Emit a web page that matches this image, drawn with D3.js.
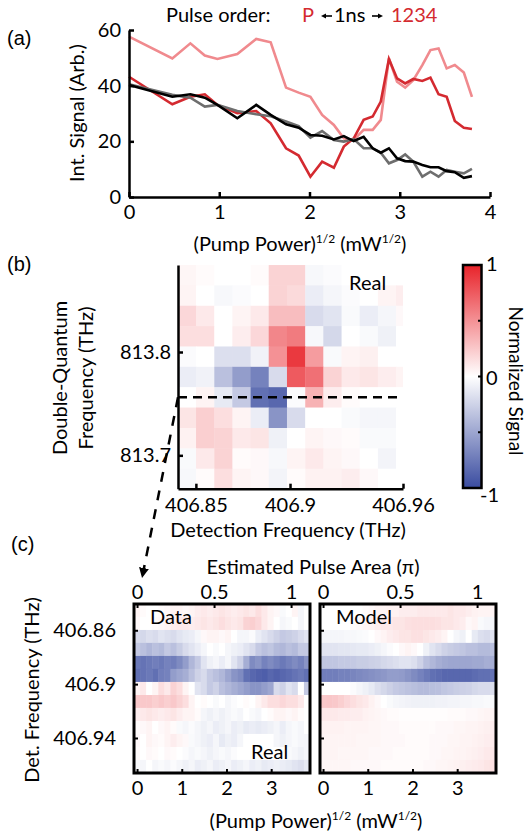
<!DOCTYPE html>
<html><head><meta charset="utf-8">
<script src="https://cdn.jsdelivr.net/npm/d3@7/dist/d3.min.js"></script>
<style>
body{margin:0;background:#fff}
text{font-family:Lato,"Open Sans",sans-serif;fill:#000}
</style>
</head><body>
<svg id="fig" width="529" height="833"></svg>
<script>
// ---------------- DATA ----------------
// (a) integrated signal vs sqrt(pump power)
const pumpSqrt = [0,0.48,0.68,0.84,0.98,1.20,1.41,1.57,1.74,1.88,2.01,2.14,2.27,2.38,2.49,2.60,2.70,2.79,2.88,2.97,3.06,3.15,3.25,3.34,3.43,3.52,3.61,3.71,3.80];
const sigPink  = [57.6,49.8,55.2,50.8,49.6,51.4,56.8,55.6,39.3,37.5,36.0,29.5,25.9,21.1,20.5,24.1,24.1,27.7,49.8,41.4,39.3,42.0,47.4,52.8,53.4,46.2,47.4,44.7,36.0];
const sigRed   = [43.2,33.3,36.0,36.9,33.1,30.1,30.9,26.5,17.5,14.9,7.3,12.7,10.5,18.1,21.1,27.7,28.9,34.3,49.6,42.6,40.8,42.4,41.7,42.9,36.9,36.0,27.3,24.9,24.4];
const sigGray  = [40.5,36.7,35.7,32.5,33.1,30.9,29.7,29.0,27.1,25.5,21.3,23.7,20.5,19.9,20.8,17.5,17.5,15.9,12.1,13.3,15.3,12.7,7.3,9.1,7.3,9.7,9.1,8.5,10.1];
const sigBlack = [40.2,36.0,36.9,35.7,33.1,28.3,33.1,29.5,26.1,24.9,22.3,22.0,20.7,21.9,20.1,21.6,17.5,15.9,17.5,13.9,12.9,12.7,11.5,10.7,10.7,9.3,8.9,6.9,7.5];
const aXTicks = [0,1,2,3,4];
const aYTicks = [0,20,40,60];

// (b) 2D double-quantum map
const detFreq = [406.8453,406.8549,406.8646,406.8742,406.8839,406.8935,406.9032,406.9129,406.9225,406.9322,406.9418,406.9515,406.9611];
const dqFreq  = [813.8743,813.8546,813.8349,813.8152,813.7955,813.7758,813.7561,813.7364,813.7166,813.6969,813.6772];
const mapB = [
 [ 0.04, 0.02, 0.00, 0.00, 0.02, 0.20, 0.20,-0.04,-0.02, 0.00, 0.00, 0.00, 0.00],
 [ 0.05, 0.00,-0.04,-0.02, 0.00, 0.20, 0.17,-0.10,-0.05,-0.02, 0.00, 0.05, 0.08],
 [ 0.18, 0.10, 0.00, 0.05, 0.10, 0.30, 0.30,-0.20,-0.15,-0.03,-0.10,-0.05, 0.03],
 [ 0.15, 0.15, 0.00, 0.08, 0.18, 0.55, 0.60,-0.04,-0.22, 0.00,-0.03,-0.08, 0.00],
 [-0.02, 0.00,-0.18,-0.18,-0.07, 0.50, 0.90, 0.45,-0.03, 0.05, 0.07, 0.00, 0.00],
 [-0.10,-0.07,-0.35,-0.55,-0.70,-0.20, 0.75, 0.65, 0.20, 0.10, 0.12, 0.08, 0.05],
 [ 0.00, 0.05,-0.12,-0.30,-0.80,-0.85,-0.02, 0.35, 0.08, 0.02, 0.00, 0.00, 0.00],
 [ 0.12, 0.22, 0.15, 0.05,-0.10,-0.60,-0.20, 0.00, 0.00,-0.03,-0.05,-0.05, 0.00],
 [ 0.06, 0.22, 0.20, 0.10, 0.12,-0.08, 0.00, 0.05, 0.03, 0.02,-0.03,-0.03, 0.00],
 [-0.03, 0.10, 0.20, 0.02, 0.03,-0.04, 0.05, 0.10, 0.05, 0.03, 0.00,-0.06, 0.00],
 [-0.04, 0.02, 0.15, 0.05, 0.03,-0.06, 0.02, 0.06, 0.06, 0.08, 0.03, 0.00, 0.00]
];
const bXTicks = [406.85, 406.9, 406.96];
const bXLabels = ["406.85","406.9","406.96"];
const bYTicks = [813.8, 813.7];
const bYLabels = ["813.8","813.7"];
const sliceDQ = 813.7561;
const cbTicks = [1,0.5,0,-0.5,-1];
const cbLabels = ["1","","0","","-1"];

// (c) slice vs pump power: rows = detection frequency (detFreq), cols = pumpSqrt index
const mapData = [
 [0.05,0.02,0,0,0.02,0.03,0.05,0.05,0.03,0.05,0.08,0.1,0.08,0.1,0.12,0.1,0.08,0.1,0.12,0.1,0.15,0.1,0.05,0.03,-0.03,0,0.05,-0.05,0],
 [0.03,0,0,0.02,0.03,0.05,0.08,0.1,0.1,0.08,0.1,0.12,0.1,0.12,0.15,0.12,0.1,0.12,0.2,0.22,0.18,0.1,0.05,0,-0.05,-0.03,0,-0.05,0],
 [-0.2,-0.22,-0.18,-0.2,-0.15,-0.18,-0.2,-0.15,-0.12,-0.1,-0.05,0.03,0.05,0.05,0.03,0.05,0,-0.05,-0.05,-0.02,-0.1,-0.15,-0.2,-0.25,-0.3,-0.28,-0.25,-0.2,-0.15],
 [-0.3,-0.35,-0.4,-0.35,-0.38,-0.3,-0.35,-0.28,-0.2,-0.15,-0.1,-0.05,0,-0.03,0,-0.05,-0.08,-0.1,-0.15,-0.2,-0.3,-0.35,-0.32,-0.38,-0.4,-0.35,-0.38,-0.3,-0.3],
 [-0.75,-0.78,-0.75,-0.72,-0.75,-0.7,-0.72,-0.65,-0.55,-0.4,-0.3,-0.15,-0.08,-0.05,-0.1,-0.05,-0.15,-0.25,-0.45,-0.65,-0.6,-0.7,-0.65,-0.7,-0.75,-0.7,-0.65,-0.7,-0.6],
 [-0.8,-0.78,-0.75,-0.8,-0.72,-0.7,-0.55,-0.5,-0.45,-0.35,-0.25,-0.2,-0.3,-0.35,-0.4,-0.5,-0.6,-0.65,-0.8,-0.85,-0.88,-0.9,-0.85,-0.88,-0.85,-0.82,-0.78,-0.75,-0.8],
 [0.05,0.1,0,0.05,0.15,0.1,0.2,0.15,0.05,0,-0.15,-0.2,-0.3,-0.25,-0.35,-0.4,-0.45,-0.5,-0.55,-0.6,-0.6,-0.55,-0.5,-0.2,-0.25,-0.15,-0.2,0,-0.3],
 [0.25,0.25,0.25,0.22,0.25,0.22,0.25,0.2,0.15,0.05,0,0.02,0,-0.03,0,-0.05,-0.02,0,0.02,0,0.05,0.1,0.15,0.15,0.18,0.15,0.15,0.1,0],
 [0.08,0.1,0.12,0.1,0.08,0.1,0.12,0.08,0.05,0.05,0.02,-0.05,-0.08,-0.05,-0.08,-0.05,-0.03,-0.05,0,-0.03,-0.05,0,0.02,0.05,0.05,0.03,0.05,0.02,0],
 [0.02,0.03,0.05,0,0.03,0.05,0.02,-0.03,-0.05,-0.02,-0.05,-0.08,-0.05,-0.1,-0.08,-0.05,-0.1,-0.08,-0.12,-0.1,-0.12,-0.1,-0.08,-0.05,-0.1,-0.05,-0.03,-0.05,0],
 [0.03,0,0.05,0.03,0.02,0.05,0.08,0.05,0.03,-0.03,-0.05,-0.08,-0.1,-0.05,-0.12,-0.08,-0.1,-0.05,0,0,0,0,0,-0.05,-0.08,-0.05,-0.03,-0.05,-0.05],
 [0.02,0,0.03,0.02,0,0.03,0.02,0,-0.02,-0.05,-0.03,-0.05,-0.08,-0.05,-0.03,-0.05,-0.02,0,0,0,0,0,0,0,0,-0.03,-0.05,-0.08,-0.05],
 [-0.03,-0.05,0,-0.05,-0.03,-0.05,-0.02,-0.05,-0.08,-0.05,-0.1,-0.08,-0.05,-0.1,-0.08,-0.05,-0.1,-0.08,-0.05,-0.1,-0.08,-0.12,-0.1,-0.08,-0.1,-0.12,-0.15,-0.18,-0.12]
];
const mapModel = [
 [0,0,0,0,0,0,0,0.02,0.03,0.05,0.05,0.06,0.06,0.08,0.08,0.08,0.1,0.1,0.1,0.1,0.1,0.12,0.1,0.1,0.08,0.06,0.05,0.05,0.05],
 [0,0,0,0,0,0.02,0.03,0.05,0.06,0.08,0.1,0.1,0.12,0.12,0.14,0.15,0.15,0.15,0.15,0.14,0.12,0.12,0.1,0.08,0.03,0.05,-0.03,-0.05,-0.05],
 [-0.05,-0.05,-0.05,-0.05,-0.04,-0.04,-0.03,-0.02,0,0.03,0.05,0.08,0.1,0.12,0.12,0.14,0.14,0.12,0.1,0.08,0.05,0,-0.05,-0.08,0,-0.12,-0.18,-0.2,-0.15],
 [-0.15,-0.15,-0.15,-0.14,-0.14,-0.13,-0.12,-0.12,-0.1,-0.08,-0.05,-0.02,0,0.03,0.05,0.03,0,-0.08,-0.15,-0.2,-0.25,-0.28,-0.3,-0.32,-0.35,-0.35,-0.38,-0.38,-0.35],
 [-0.32,-0.32,-0.32,-0.3,-0.3,-0.3,-0.28,-0.28,-0.26,-0.25,-0.22,-0.2,-0.18,-0.15,-0.15,-0.18,-0.25,-0.35,-0.4,-0.45,-0.48,-0.5,-0.5,-0.5,-0.5,-0.48,-0.48,-0.45,-0.45],
 [-0.72,-0.72,-0.72,-0.7,-0.7,-0.68,-0.66,-0.64,-0.62,-0.6,-0.58,-0.55,-0.55,-0.56,-0.6,-0.65,-0.7,-0.75,-0.8,-0.82,-0.85,-0.85,-0.85,-0.85,-0.85,-0.82,-0.8,-0.8,-0.78],
 [0,0,0,0,0,-0.02,-0.05,-0.08,-0.12,-0.18,-0.22,-0.26,-0.3,-0.32,-0.34,-0.36,-0.38,-0.38,-0.36,-0.35,-0.32,-0.3,-0.28,-0.26,-0.25,-0.22,-0.2,-0.2,-0.18],
 [0.25,0.26,0.25,0.22,0.18,0.15,0.12,0.1,0.06,0.03,0,-0.03,-0.05,-0.06,-0.07,-0.08,-0.08,-0.08,-0.08,-0.07,-0.07,-0.06,-0.06,-0.05,-0.05,-0.04,-0.04,-0.03,-0.03],
 [0.1,0.1,0.1,0.09,0.09,0.08,0.08,0.06,0.05,0.04,0.03,0.02,0.02,0.01,0.01,0.01,0.01,0.01,0.01,0.01,0.01,0.02,0.02,0.02,0.03,0.03,0.04,0.05,0.05],
 [0.06,0.06,0.06,0.06,0.05,0.05,0.05,0.05,0.04,0.04,0.03,0.03,0.03,0.02,0.02,0.02,0.02,0.02,0.02,0.03,0.03,0.03,0.04,0.04,0.05,0.05,0.06,0.07,0.08],
 [0.05,0.05,0.05,0.05,0.05,0.05,0.04,0.04,0.04,0.04,0.03,0.03,0.03,0.03,0.02,0.02,0.02,0.02,0.03,0.03,0.03,0.04,0.04,0.05,0.05,0.06,0.07,0.08,0.09],
 [0.05,0.05,0.05,0.04,0.04,0.04,0.04,0.04,0.03,0.03,0.03,0.03,0.02,0.02,0.02,0.02,0.02,0.02,0.03,0.03,0.04,0.04,0.05,0.05,0.06,0.07,0.08,0.1,0.11],
 [0.04,0.04,0.04,0.04,0.04,0.03,0.03,0.03,0.03,0.03,0.02,0.02,0.02,0.02,0.02,0.02,0.02,0.03,0.03,0.04,0.04,0.05,0.06,0.07,0.08,0.09,0.1,0.12,0.14]
];
const cXTicks = [0,1,2,3];
const cYTicks = [406.86, 406.9, 406.94];
const cYLabels = ["406.86","406.9","406.94"];
const areaTicks = [0,0.5,1];
const areaLabels = ["0","0.5","1"];
const pumpAtPi = 3.445; // sqrt(pump) giving an estimated pulse area of pi

// ---------------- DRAWING ----------------
const svg = d3.select("#fig");
const cmap = d3.scaleLinear().domain([-1,0,1]).range(["#3a4ca0","#ffffff","#e8232a"]).clamp(true);
const FS = 20;
const RED = "#d42a30";

function styleAxis(g, w){
  g.select(".domain").attr("stroke","#000").attr("stroke-width",w);
  g.selectAll(".tick line").attr("stroke","#000").attr("stroke-width",w);
  g.selectAll(".tick text").attr("font-size",FS).attr("font-family","Lato, sans-serif").attr("fill","#000");
}
function supLabel(sel, x, y){
  const t = sel.append("text").attr("x",x).attr("y",y).attr("text-anchor","middle").attr("font-size",FS);
  t.append("tspan").text("(Pump Power)");
  t.append("tspan").attr("font-size",12).attr("dy",-8).text("1/2");
  t.append("tspan").attr("dy",8).text(" (mW");
  t.append("tspan").attr("font-size",12).attr("dy",-8).text("1/2");
  t.append("tspan").attr("dy",8).text(")");
}
const defs = svg.append("defs");

// ===== (a) =====
const ax = d3.scaleLinear().domain([0,4]).range([129,490]);
const ay = d3.scaleLinear().domain([0,60]).range([197,30]);
const ga = svg.append("g");
const lineGen = d3.line().x((d,i)=>ax(pumpSqrt[i])).y(d=>ay(d));
[[sigPink,"#f08a8e"],[sigRed,RED],[sigGray,"#6e6e6e"],[sigBlack,"#000000"]].forEach(([s,c])=>{
  ga.append("path").datum(s).attr("d",lineGen).attr("fill","none").attr("stroke",c)
    .attr("stroke-width",2.6).attr("stroke-linejoin","miter");
});
const aYAxis = ga.append("g").attr("transform","translate(129,0)")
  .call(d3.axisLeft(ay).tickValues(aYTicks).tickSizeInner(-5).tickSizeOuter(0).tickPadding(8));
styleAxis(aYAxis,2.5);
const aXAxis = ga.append("g").attr("transform","translate(0,197)")
  .call(d3.axisBottom(ax).tickValues(aXTicks).tickSizeInner(-5).tickSizeOuter(0).tickPadding(8).tickFormat(d3.format("d")));
styleAxis(aXAxis,2.5);
ga.append("text").attr("transform","translate(76,113) rotate(-90)").attr("text-anchor","middle")
  .attr("dominant-baseline","central").attr("font-size",FS).text("Int. Signal (Arb.)");
supLabel(ga, 300, 251);
ga.append("text").attr("x",7).attr("y",45).attr("font-size",20).style("font-family","Liberation Sans, Arial, sans-serif").text("(a)");
// legend
const legY = 22;
ga.append("text").attr("x",166).attr("y",legY).attr("font-size",FS).text("Pulse order:");
ga.append("text").attr("x",302).attr("y",legY).attr("font-size",FS).style("fill",RED).text("P");
ga.append("text").attr("x",334).attr("y",legY).attr("font-size",FS).text("1ns");
ga.append("text").attr("x",391).attr("y",legY).attr("font-size",FS).style("fill",RED).text("1234");
defs.append("marker").attr("id","legarrow").attr("viewBox","0 0 10 10").attr("refX",2).attr("refY",5)
  .attr("markerWidth",3.2).attr("markerHeight",3.2).attr("orient","auto")
  .append("path").attr("d","M0,0 L10,5 L0,10 z").attr("fill","#000");
ga.append("line").attr("x1",332).attr("x2",325).attr("y1",legY-6).attr("y2",legY-6)
  .attr("stroke","#000").attr("stroke-width",1.6).attr("marker-end","url(#legarrow)");
ga.append("line").attr("x1",372).attr("x2",379).attr("y1",legY-6).attr("y2",legY-6)
  .attr("stroke","#000").attr("stroke-width",1.6).attr("marker-end","url(#legarrow)");

// ===== (b) =====
const bx = d3.scaleLinear().domain([406.8405,406.96]).range([178,403]);
const by = d3.scaleLinear().domain([813.6677,813.8842]).range([488.7,265]);
const gb = svg.append("g");
defs.append("clipPath").attr("id","clipb").append("rect").attr("x",178).attr("y",265).attr("width",225).attr("height",224);
const cellW = Math.abs(bx(detFreq[detFreq.length-1]) - bx(detFreq[0]))/(detFreq.length-1);
const cellH = Math.abs(by(dqFreq[0]) - by(dqFreq[dqFreq.length-1]))/(dqFreq.length-1);
const cellsB = [];
mapB.forEach((row,r)=>row.forEach((v,c)=>cellsB.push({r,c,v})));
gb.append("g").attr("clip-path","url(#clipb)").selectAll("rect").data(cellsB).join("rect")
  .attr("x",d=>bx(detFreq[d.c])-cellW/2).attr("y",d=>by(dqFreq[d.r])-cellH/2)
  .attr("width",cellW+0.5).attr("height",cellH+0.5).attr("fill",d=>cmap(d.v));
gb.append("line").attr("x1",bx(406.8405)).attr("x2",bx(406.96)).attr("y1",by(sliceDQ)).attr("y2",by(sliceDQ))
  .attr("stroke","#000").attr("stroke-width",2.5).attr("stroke-dasharray","9,6");
const bYAxis = gb.append("g").attr("transform","translate(178,0)")
  .call(d3.axisLeft(by).tickValues(bYTicks).tickFormat((d,i)=>bYLabels[i]).tickSizeInner(-5).tickSizeOuter(0).tickPadding(7));
styleAxis(bYAxis,2.5);
const bXAxis = gb.append("g").attr("transform","translate(0,488.7)")
  .call(d3.axisBottom(bx).tickValues(bXTicks).tickFormat((d,i)=>bXLabels[i]).tickSizeInner(-5).tickSizeOuter(0).tickPadding(9));
styleAxis(bXAxis,2.5);
gb.append("text").attr("x",349).attr("y",290).attr("font-size",FS).text("Real");
gb.append("text").attr("x",288).attr("y",537).attr("text-anchor","middle").attr("font-size",FS).text("Detection Frequency (THz)");
gb.append("text").attr("transform","translate(59,378) rotate(-90)").attr("text-anchor","middle").attr("dominant-baseline","central").attr("font-size",FS).text("Double-Quantum");
gb.append("text").attr("transform","translate(85,378) rotate(-90)").attr("text-anchor","middle").attr("dominant-baseline","central").attr("font-size",FS).text("Frequency (THz)");
gb.append("text").attr("x",7).attr("y",271).attr("font-size",20).style("font-family","Liberation Sans, Arial, sans-serif").text("(b)");
// colorbar
const cby = d3.scaleLinear().domain([-1,1]).range([488,265]);
const grad = defs.append("linearGradient").attr("id","cbgrad").attr("x1",0).attr("x2",0).attr("y1",1).attr("y2",0);
[-1,-0.5,0,0.5,1].forEach(v=>grad.append("stop").attr("offset",(v+1)/2).attr("stop-color",cmap(v)));
gb.append("rect").attr("x",463).attr("y",265).attr("width",18.5).attr("height",223).attr("fill","url(#cbgrad)")
  .attr("stroke","#000").attr("stroke-width",2.5);
gb.selectAll(".cbt").data(cbTicks).join("line").attr("x1",481.5).attr("x2",478).attr("y1",d=>cby(d)).attr("y2",d=>cby(d))
  .attr("stroke","#000").attr("stroke-width",2);
gb.selectAll(".cbl").data(cbTicks).join("text").attr("x",d=>d<0?480:486)
  .attr("y",d=>cby(d) + (d===1?-2:(d===-1?6:0)))
  .attr("dominant-baseline","central").attr("font-size",FS).text((d,i)=>cbLabels[i]);
gb.append("text").attr("transform","translate(516,381) rotate(90)").attr("text-anchor","middle").attr("dominant-baseline","central").attr("font-size",19).text("Normalized Signal");

// ===== (c) =====
const cy = d3.scaleLinear().domain([406.8405,406.9660]).range([604,773]);
const rowH = Math.abs(cy(detFreq[detFreq.length-1]) - cy(detFreq[0]))/(detFreq.length-1);
function panelC(x0, x1, mat, title, showLabels){
  const g = svg.append("g");
  const px = d3.scaleLinear().domain([-0.068,3.868]).range([x0,x1]);
  const col = d3.scaleBand().domain(d3.range(pumpSqrt.length)).range([x0,x1]);
  const cells = [];
  mat.forEach((row,r)=>row.forEach((v,c)=>cells.push({r,c,v})));
  g.selectAll("rect.cell").data(cells).join("rect").attr("class","cell")
    .attr("x",d=>col(d.c)).attr("y",d=>cy(detFreq[d.r])-rowH/2)
    .attr("width",col.bandwidth()+0.5).attr("height",rowH+0.5).attr("fill",d=>cmap(d.v));
  g.append("rect").attr("x",x0).attr("y",604).attr("width",x1-x0).attr("height",169)
    .attr("fill","none").attr("stroke","#000").attr("stroke-width",3);
  const bAx = g.append("g").attr("transform","translate(0,773)")
    .call(d3.axisBottom(px).tickValues(cXTicks).tickFormat(d3.format("d")).tickSizeInner(-4).tickSizeOuter(0).tickPadding(8));
  styleAxis(bAx,2); bAx.select(".domain").remove();
  const area = d3.scaleLinear().domain([0,1]).range([px(0),px(pumpAtPi)]);
  const tAx = g.append("g").attr("transform","translate(0,604)")
    .call(d3.axisTop(area).tickValues(areaTicks).tickFormat((d,i)=>areaLabels[i]).tickSizeInner(-4).tickSizeOuter(0).tickPadding(5));
  styleAxis(tAx,2); tAx.select(".domain").remove();
  const lAx = g.append("g").attr("transform",`translate(${x0},0)`)
    .call(d3.axisLeft(cy).tickValues(cYTicks).tickFormat((d,i)=>showLabels?cYLabels[i]:"").tickSizeInner(-4).tickSizeOuter(0).tickPadding(18));
  styleAxis(lAx,2); lAx.select(".domain").remove();
  g.append("text").attr("x",x0+16).attr("y",624).attr("font-size",FS).text(title);
  return g;
}
const gcL = panelC(134,310,mapData,"Data",true);
gcL.append("text").attr("x",251).attr("y",759).attr("font-size",FS).text("Real");
panelC(320,496,mapModel,"Model",false);
svg.append("text").attr("x",313).attr("y",574).attr("text-anchor","middle").attr("font-size",FS).text("Estimated Pulse Area (\u03c0)");
supLabel(svg, 316, 828);
svg.append("text").attr("transform","translate(31,690) rotate(-90)").attr("text-anchor","middle").attr("dominant-baseline","central").attr("font-size",FS).text("Det. Frequency (THz)");
svg.append("text").attr("x",11).attr("y",551).attr("font-size",20).style("font-family","Liberation Sans, Arial, sans-serif").text("(c)");

// dashed arrow from slice line to panel (c)
defs.append("marker").attr("id","arrowhead").attr("viewBox","0 0 10 10").attr("refX",5).attr("refY",5)
  .attr("markerWidth",4).attr("markerHeight",4).attr("orient","auto")
  .append("path").attr("d","M0,0 L10,5 L0,10 z").attr("fill","#000");
svg.append("line").attr("x1",bx(406.8405)).attr("y1",by(sliceDQ)).attr("x2",143).attr("y2",573)
  .attr("stroke","#000").attr("stroke-width",2.5).attr("stroke-dasharray","10,9").attr("marker-end","url(#arrowhead)");
</script>
</body></html>
